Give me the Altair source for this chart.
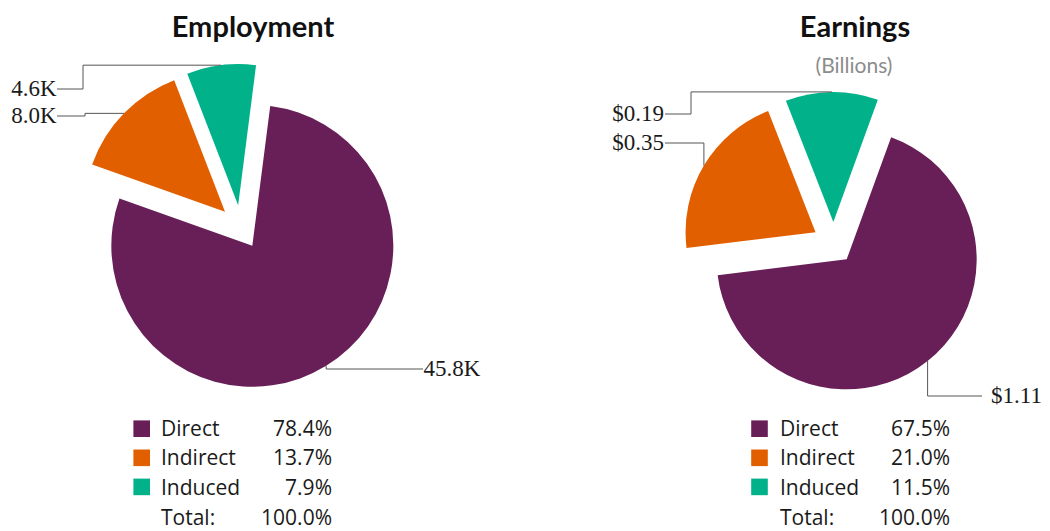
import math
import altair as alt
import pandas as pd

# ---------------- data ----------------
categories = ["Direct", "Indirect", "Induced"]
colors = ["#681E57", "#E25F00", "#00B189"]

emp_pct = [78.4, 13.7, 7.9]
emp_labels = ["45.8K", "8.0K", "4.6K"]

earn_pct = [67.5, 21.0, 11.5]
earn_labels = ["$1.11", "$0.35", "$0.19"]

# ---------------- layout (pixels, plot coordinates) ----------------
W, H = 1034, 523

emp_layout = dict(
    title="Employment", title_x=245, title_y=28.8, subtitle=None,
    cx=232.8, cy=219.0, r=141, explode=22, start=7.3,
    label_y=[361, 108, 81], elbow_x=[None, 77, 75], end_x=[415, 49, 49],
    text_x=[415.5, 48.5, 48.5], align=["left", "right", "right"],
    sq_x=133.7, name_x=153, val_x=324,
)
earn_layout = dict(
    title="Earnings", title_x=847, title_y=28.8, subtitle="(Billions)",
    cx=825.6, cy=234.9, r=130, explode=21, start=20.0,
    label_y=[388, 135, 106], elbow_x=[None, None, 683], end_x=[974, 657, 657],
    text_x=[983, 656, 656], align=["left", "right", "right"],
    sq_x=751.5, name_x=772, val_x=942,
)

LEG_Y0 = 420.7
LEG_STEP = 29.1
TOTAL_BASE = 517.2

LABEL_FONT = "Liberation Serif"
TEXT_FONT = "Open Sans"
TITLE_FONT = "Lato"


def pie_layers(pct, labels, lay):
    df = pd.DataFrame({
        "cat": categories,
        "pct": pct,
        "label": labels,
        "ord": list(range(len(categories))),
        "ly": lay["label_y"],
        "ex": lay["elbow_x"],
        "lx": lay["end_x"],
        "tx": lay["text_x"],
        "al": lay["align"],
    })
    s = math.radians(lay["start"])
    cx, cy, r, d = lay["cx"], lay["cy"], lay["r"], lay["explode"]

    base = (
        alt.Chart(df)
        .transform_joinaggregate(total="sum(pct)")
        .transform_window(cum="sum(pct)", sort=[alt.SortField("ord")], frame=[None, 0])
        .transform_calculate(
            a0=f"{s} + 2*PI*(datum.cum - datum.pct)/datum.total",
            a1=f"{s} + 2*PI*datum.cum/datum.total",
        )
        .transform_calculate(mid="(datum.a0 + datum.a1)/2")
        .transform_calculate(
            sx=f"{cx} + {d}*sin(datum.mid)",
            sy=f"{cy} - {d}*cos(datum.mid)",
            ax=f"{cx} + {d + r}*sin(datum.mid)",
            ay=f"{cy} - {d + r}*cos(datum.mid)",
        )
        .transform_calculate(ex2="isValid(datum.ex) ? datum.ex : datum.ax")
    )

    arcs = base.mark_arc(radius=r, strokeWidth=0).encode(
        x=alt.X("sx:Q", scale=None, axis=None),
        y=alt.Y("sy:Q", scale=None, axis=None),
        theta=alt.Theta("a0:Q", scale=None),
        theta2=alt.Theta2("a1:Q"),
        color=alt.Color("cat:N", scale=alt.Scale(domain=categories, range=colors), legend=None),
    )

    rule_style = dict(color="#555555", strokeWidth=1)
    seg1 = base.mark_rule(**rule_style).encode(
        x=alt.X("ax:Q", scale=None), y=alt.Y("ay:Q", scale=None),
        x2="ex2:Q", y2="ay:Q",
    )
    seg2 = base.mark_rule(**rule_style).encode(
        x=alt.X("ex2:Q", scale=None), y=alt.Y("ay:Q", scale=None),
        x2="ex2:Q", y2="ly:Q",
    )
    seg3 = base.mark_rule(**rule_style).encode(
        x=alt.X("ex2:Q", scale=None), y=alt.Y("ly:Q", scale=None),
        x2="lx:Q", y2="ly:Q",
    )

    txt_left = base.transform_filter("datum.al == 'left'").mark_text(
        font=LABEL_FONT, fontSize=23, align="left", baseline="middle", color="#1a1a1a"
    ).encode(x=alt.X("tx:Q", scale=None), y=alt.Y("ly:Q", scale=None), text="label:N")
    txt_right = base.transform_filter("datum.al == 'right'").mark_text(
        font=LABEL_FONT, fontSize=23, align="right", baseline="middle", color="#1a1a1a"
    ).encode(x=alt.X("tx:Q", scale=None), y=alt.Y("ly:Q", scale=None), text="label:N")

    # legend
    leg = alt.Chart(df).transform_calculate(
        rowy=f"{LEG_Y0} + datum.ord*{LEG_STEP}",
        base_y=f"{LEG_Y0} + datum.ord*{LEG_STEP} + 7.6",
        sqx=f"{lay['sq_x']}",
        nx=f"{lay['name_x']}",
        vx=f"{lay['val_x']}",
        vtxt="format(datum.pct, '.1f') + '%'",
    )
    squares = leg.mark_square(size=16.6 ** 2, opacity=1, strokeWidth=0).encode(
        x=alt.X("sqx:Q", scale=None), y=alt.Y("rowy:Q", scale=None),
        color=alt.Color("cat:N", scale=alt.Scale(domain=categories, range=colors), legend=None),
    )
    names = leg.mark_text(font=TEXT_FONT, fontSize=21, align="left", baseline="alphabetic",
                          color="#1a1a1a").encode(
        x=alt.X("nx:Q", scale=None), y=alt.Y("base_y:Q", scale=None), text="cat:N")
    vals = leg.mark_text(font=TEXT_FONT, fontSize=21, align="right", baseline="alphabetic",
                         color="#1a1a1a").encode(
        x=alt.X("vx:Q", scale=None), y=alt.Y("base_y:Q", scale=None), text="vtxt:N")

    tot = alt.Chart(df).transform_aggregate(total="sum(pct)").transform_calculate(
        ttxt="format(datum.total, '.1f') + '%'", lab="'Total:'"
    )
    tot_name = tot.mark_text(font=TEXT_FONT, fontSize=21, align="left", baseline="alphabetic",
                             color="#1a1a1a").encode(
        x=alt.value(lay["name_x"]), y=alt.value(TOTAL_BASE), text="lab:N")
    tot_val = tot.mark_text(font=TEXT_FONT, fontSize=21, align="right", baseline="alphabetic",
                            color="#1a1a1a").encode(
        x=alt.value(lay["val_x"]), y=alt.value(TOTAL_BASE), text="ttxt:N")

    title = alt.Chart(pd.DataFrame({"t": [lay["title"]]})).mark_text(
        font=TITLE_FONT, fontSize=29, fontWeight="bold", align="center", baseline="alphabetic",
        color="#111111"
    ).encode(x=alt.value(lay["title_x"]), y=alt.value(lay["title_y"]), text="t:N")

    layers = [arcs, seg1, seg2, seg3, txt_left, txt_right, squares, names, vals,
              tot_name, tot_val, title]
    if lay["subtitle"]:
        sub = alt.Chart(pd.DataFrame({"t": [lay["subtitle"]]})).mark_text(
            font=TITLE_FONT, fontSize=21, align="center", baseline="alphabetic", color="#8c8c8c"
        ).encode(x=alt.value(lay["title_x"] - 1), y=alt.value(64.5), text="t:N")
        layers.append(sub)
    return layers


chart = alt.layer(
    *pie_layers(emp_pct, emp_labels, emp_layout),
    *pie_layers(earn_pct, earn_labels, earn_layout),
).properties(
    width=W, height=H, padding=0,
    autosize=alt.AutoSizeParams(type="none"),
).configure_view(stroke=None)

chart.save("out.html", embed_options={"renderer": "svg", "actions": False})
